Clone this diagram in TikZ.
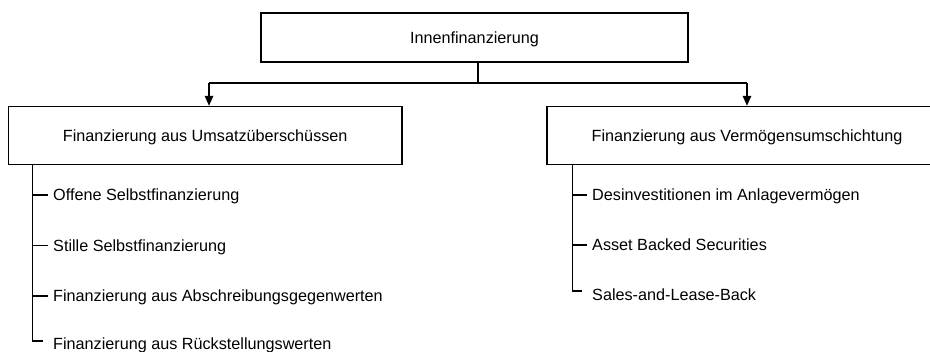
\documentclass[tikz,border=0pt]{standalone}
\usepackage{fontspec}
\setmainfont{Liberation Sans}
\usetikzlibrary{arrows.meta}
\begin{document}
\begin{tikzpicture}[x=1pt,y=-1pt,
  txt/.style={font=\fontsize{16.2}{19}\selectfont, text height=11.7pt, text depth=0pt, inner sep=0pt},
  box/.style={txt, draw=black, line width=1.4pt},
  item/.style={txt, anchor=west},
  link/.style={line width=1.4pt},
  arr/.style={link, -{Triangle[length=10pt,width=8.5pt]}}]
\useasboundingbox (0,0) rectangle (930,352);
\fill[white] (0,0) rectangle (930,352);
\clip (0,0) rectangle (930,352);

% main boxes
\node[box, minimum width=427pt, minimum height=49pt] (top) at (474.5,37.5) {Innenfinanzierung};
\node[box, minimum width=393.5pt, minimum height=58pt] (L) at (205.25,135.5) {Finanzierung aus Umsatzüberschüssen};
\node[box, minimum width=400pt, minimum height=58pt] (R) at (747,135.5) {Finanzierung aus Vermögensumschichtung};

% branching from the top box
\coordinate (jn) at (478,83);
\coordinate (jl) at (209,83);
\coordinate (jr) at (747,83);
\draw[link] (jn |- top.south) -- (jn);
\draw[link] (jl) -- (jr);
\draw[arr] (jl) -- (jl |- L.north);
\draw[arr] (jr) -- (jr |- R.north);

% left list
\node[item] (l1) at (53,195) {Offene Selbstfinanzierung};
\node[item] (l2) at (53,245.5) {Stille Selbstfinanzierung};
\node[item] (l3) at (53,296) {Finanzierung aus Abschreibungsgegenwerten};
\node[item] (l4) at (53,344) {Finanzierung aus Rückstellungswerten};
\coordinate (sL) at (32.5,341);
\coordinate (cL) at (43,341);
\draw[link] (sL |- L.south) -- (sL) -- (cL);
\foreach \n in {l1,l2,l3}
  \draw[link] (sL |- \n.west) -- ([xshift=-5pt]\n.west);

% right list
\node[item] (r1) at (592,195) {Desinvestitionen im Anlagevermögen};
\node[item] (r2) at (592,245) {Asset Backed Securities};
\node[item] (r3) at (592,295) {Sales-and-Lease-Back};
\coordinate (sR) at (572.5,291);
\coordinate (cR) at (582,291);
\draw[link] (sR |- R.south) -- (sR) -- (cR);
\foreach \n in {r1,r2}
  \draw[link] (sR |- \n.west) -- ([xshift=-5pt]\n.west);
\end{tikzpicture}
\end{document}
